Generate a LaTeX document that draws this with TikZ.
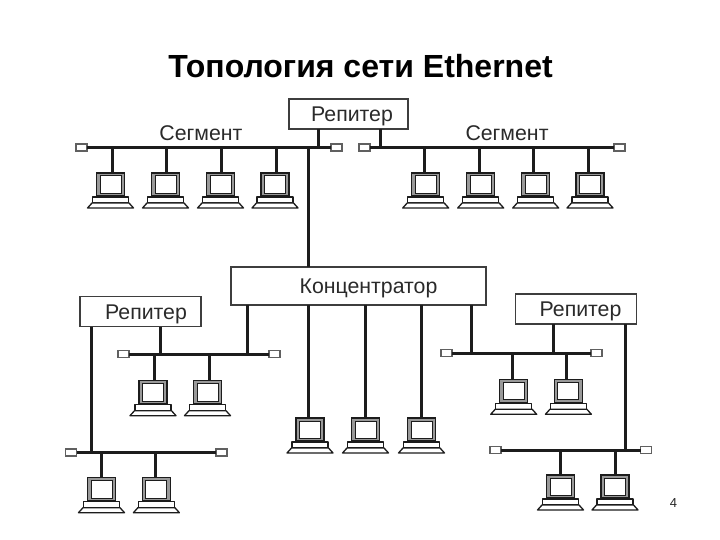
\documentclass[tikz,border=0pt]{standalone}
\usepackage{fontspec}
\setmainfont{Liberation Sans}
\definecolor{ink}{HTML}{1C1C1C}
\definecolor{label}{HTML}{2A2A2A}
\tikzset{
  x=1pt, y=-1pt,
  wire/.style={draw=ink, line width=3pt},
  term/.style={draw=ink!70, fill=white, line width=1.1pt, minimum width=11pt, minimum height=7pt, inner sep=0pt, outer sep=0pt},
  unit/.style={draw=ink!85, fill=white, line width=1.6pt, inner sep=0pt, outer sep=0pt, font=\fontsize{21.3}{25}\selectfont, text=label, text height=15pt, text depth=0pt},
  screen/.style={draw=ink, fill=black!40, line width=1.5pt, minimum width=28pt, minimum height=23pt, inner sep=0pt, outer sep=0pt},
  desk/.style={draw=ink, fill=white, line width=1.3pt, line join=round},
  caption/.style={font=\fontsize{21.3}{25}\selectfont, text=label, inner sep=0pt, text height=15pt, text depth=0pt},
}
% workstation: monitor node #1, monitor centre x #2, top y #3, cable entry x #4
\newcommand{\workstation}[4]{
  \node[screen, anchor=north] (#1) at (#2,#3) {};
  \path[draw=ink, fill=white, line width=1pt] (#2-10.5,#3+3) rectangle (#2+10.5,#3+20.5);
  \path[desk] (#2-18,#3+24) rectangle (#2+18,#3+30);
  \path[desk] (#2-18.5,#3+30) -- (#2+18.5,#3+30) -- (#2+23,#3+35) -- (#2-23,#3+35) -- cycle;
  \coordinate (#1-in) at (#4,#3);
}
% cable segment: name #1, y #2, outer left #3, outer right #4
\newcommand{\cable}[4]{
  \node[term, anchor=east] (#1-l) at (#3+11,#2) {};
  \node[term, anchor=west] (#1-r) at (#4-11,#2) {};
  \draw[wire] (#1-l) -- (#1-r);
}
% cable drop from a segment down to a workstation
\newcommand{\drop}[2]{\draw[wire] (#2-in |- #1-l) -- (#2-in);}
\begin{document}
\begin{tikzpicture}
\path[fill=white, use as bounding box] (0,0) rectangle (720,540);

\node[font=\bfseries\fontsize{32}{38}\selectfont, text=black, inner sep=0pt, anchor=base] (title) at (360.5,78) {Топология сети Ethernet};
\node[font=\fontsize{13}{15}\selectfont, text=black!85, inner sep=0pt] (page) at (673.5,503) {4};

% cable segments
\cable{topL}{147.5}{76}{342}
\cable{topR}{147.5}{359}{625}
\cable{midL}{354}{118}{280}
\cable{midR}{353}{441}{602}
\cable{lowL}{452.5}{65.5}{227}
\cable{lowR}{450}{490}{651.5}

% repeaters and the hub
\node[unit, minimum width=119pt, minimum height=30pt] (rep) at (348.5,114) {\hspace*{7pt}Репитер};
\node[unit, minimum width=121pt, minimum height=30pt] (repL) at (140.5,311.5) {\hspace*{11pt}Репитер};
\node[unit, minimum width=121pt, minimum height=30pt] (repR) at (576,309) {\hspace*{9pt}Репитер};
\node[unit, minimum width=254.5pt, minimum height=38pt] (hub) at (358.5,286) {\hspace*{20pt}Концентратор};

\node[caption] (capL) at (201,133) {Сегмент};
\node[caption] (capR) at (507,133) {Сегмент};

% workstations
\workstation{a1}{110.5}{173}{112}
\workstation{a2}{165.5}{173}{166.5}
\workstation{a3}{220.5}{173}{221.5}
\workstation{a4}{275}{173}{276}
\workstation{b1}{425.7}{173}{424}
\workstation{b2}{480.7}{173}{479}
\workstation{b3}{535.7}{173}{533.7}
\workstation{b4}{590}{173}{588.5}
\workstation{c1}{153}{380.7}{154.3}
\workstation{c2}{207.5}{380.7}{209}
\workstation{d1}{101.5}{477.7}{101}
\workstation{d2}{156.4}{477.7}{155.7}
\workstation{h1}{310}{418}{308.5}
\workstation{h2}{365.5}{418}{365}
\workstation{h3}{421.5}{418}{421}
\workstation{e1}{513.7}{379.3}{512}
\workstation{e2}{568.4}{379.3}{566.7}
\workstation{f1}{560.5}{475}{560.7}
\workstation{f2}{615}{475}{615.7}

% drops from the segments
\drop{topL}{a1}\drop{topL}{a2}\drop{topL}{a3}\drop{topL}{a4}
\drop{topR}{b1}\drop{topR}{b2}\drop{topR}{b3}\drop{topR}{b4}
\drop{midL}{c1}\drop{midL}{c2}
\drop{lowL}{d1}\drop{lowL}{d2}
\drop{midR}{e1}\drop{midR}{e2}
\drop{lowR}{f1}\drop{lowR}{f2}

% hub ports
\draw[wire] (h1-in |- hub.south) -- (h1-in);
\draw[wire] (h2-in |- hub.south) -- (h2-in);
\draw[wire] (h3-in |- hub.south) -- (h3-in);
\coordinate (tapTop) at (308,0);
\coordinate (tapML) at (247,0);
\coordinate (tapMR) at (471.7,0);
\draw[wire] (tapTop |- topL-l) -- (tapTop |- hub.north);
\draw[wire] (tapML |- hub.south) -- (tapML |- midL-l);
\draw[wire] (tapMR |- hub.south) -- (tapMR |- midR-l);

% repeater links
\coordinate (linkA) at (318,0);
\coordinate (linkB) at (380,0);
\coordinate (linkC) at (160.7,0);
\coordinate (linkD) at (91.7,0);
\coordinate (linkE) at (553.7,0);
\coordinate (linkF) at (625.7,0);
\draw[wire] (linkA |- rep.south) -- (linkA |- topL-l);
\draw[wire] (linkB |- rep.south) -- (linkB |- topR-l);
\draw[wire] (linkC |- repL.south) -- (linkC |- midL-l);
\draw[wire] (linkD |- repL.south) -- (linkD |- lowL-l);
\draw[wire] (linkE |- repR.south) -- (linkE |- midR-l);
\draw[wire] (linkF |- repR.south) -- (linkF |- lowR-l);
\end{tikzpicture}
\end{document}
